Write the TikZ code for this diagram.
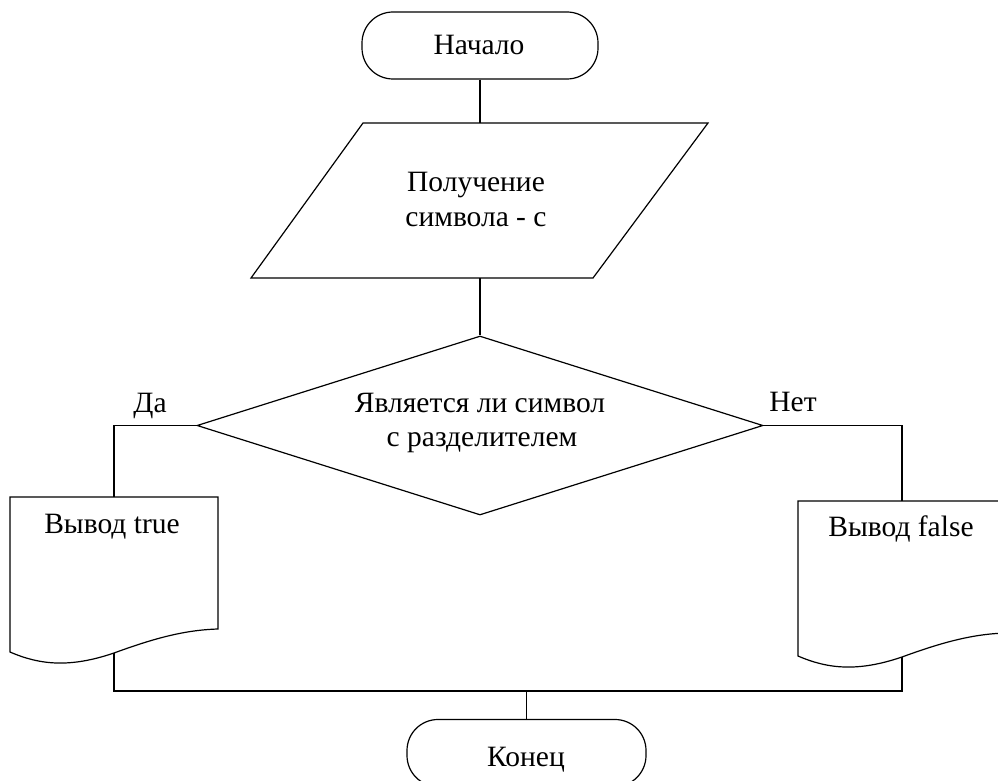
\documentclass[tikz,border=0pt]{standalone}
\usepackage{fontspec}
\setmainfont{Liberation Serif}
\usetikzlibrary{shapes.geometric}
\begin{document}
\begin{tikzpicture}[x=1pt,y=-1pt,
  line width=1.2pt,
  txt/.style={font=\fontsize{29.5}{35}\selectfont, inner sep=0pt, anchor=base},
  term/.style={draw, rounded corners=31pt, minimum width=#1, minimum height=67pt, inner sep=0pt},
  decision/.style={draw, diamond, aspect=3.16, minimum width=566pt, minimum height=179pt, inner sep=0pt},
]
\useasboundingbox (0,0) rectangle (998,781);
\clip (0,0) rectangle (998,781);

% start terminator
\node[term=236pt] (start) at (480,45.5) {};
\node[txt] (startLbl) at (479,55) {Начало};

% input parallelogram
\coordinate (inTop) at (480,123);
\coordinate (inBot) at (480,278);
\draw (363,123) -- (708,123) -- (593,278) -- (251,278) -- cycle;
\node[txt] (inL1) at (476,191) {Получение};
\node[txt] (inL2) at (476,226) {символа - с};

% decision
\node[decision] (dec) at (480,425.5) {};
\node[txt] (decL1) at (480,412) {Является ли символ};
\node[txt] (decL2) at (482,446) {с разделителем};
\node[txt] (yes) at (150,412) {Да};
\node[txt] (no) at (793,411) {Нет};

% output document (true)
\coordinate (d1top) at (114,497);
\coordinate (d1bot) at (114,653);
\draw (10,497) -- (218,497) -- (218,629)
  .. controls (185,630) and (155,638) .. (d1bot)
  .. controls (70,668) and (40,665) .. (10,652) -- cycle;
\node[txt] (d1L) at (112,533) {Вывод true};

% output document (false)
\coordinate (d2top) at (902,501);
\coordinate (d2bot) at (902,657);
\draw (798,501) -- (1006,501) -- (1006,633)
  .. controls (973,634) and (943,642) .. (d2bot)
  .. controls (858,672) and (828,669) .. (798,656) -- cycle;
\node[txt] (d2L) at (901,536) {Вывод false};

% end terminator
\node[term=239pt] (end) at (526.5,753) {};
\node[txt] (endL) at (526,766) {Конец};

% connectors
\coordinate (join) at (526.5,691);
\draw (start.south) -- (inTop);
\draw (inBot) -- (dec.north);
\draw (dec.west) -| (d1top);
\draw (dec.east) -| (d2top);
\draw (d1bot) |- (join);
\draw (d2bot) |- (join);
\draw (join) -- (end.north);
\end{tikzpicture}
\end{document}
